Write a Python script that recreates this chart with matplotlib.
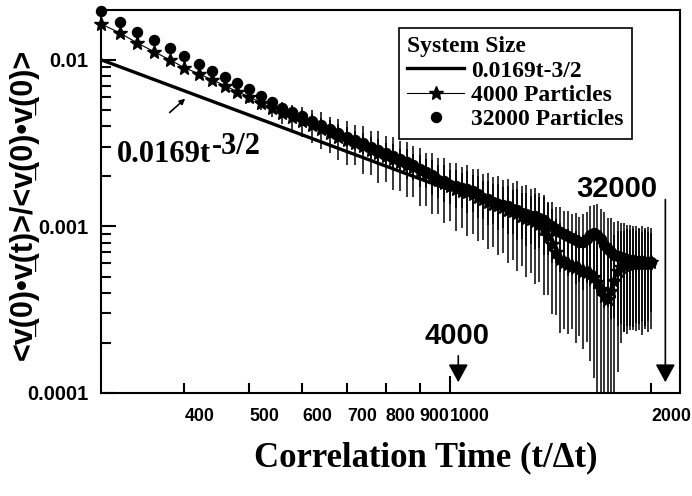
import numpy as np
import matplotlib
matplotlib.use('Agg')
import matplotlib.pyplot as plt
from matplotlib.ticker import FixedLocator, NullLocator, NullFormatter, LogLocator, FixedFormatter
from matplotlib.font_manager import FontProperties

# correlation time grid (t/dt)
t = np.arange(300, 2001, 20)

# 32000 particles (dots)
y_32000 = [0.0197, 0.0169, 0.0147, 0.0132, 0.0118, 0.0106, 0.00946, 0.00859, 0.00791, 0.00728,
           0.00670, 0.00609, 0.00560, 0.00516, 0.00488, 0.00462, 0.00431, 0.00408, 0.00386, 0.00365,
           0.00346, 0.00332, 0.00318, 0.00301, 0.00289, 0.00277, 0.00266, 0.00252, 0.00242, 0.00232,
           0.00220, 0.00211, 0.00202, 0.00191, 0.00186, 0.00178, 0.00174, 0.00169, 0.00167, 0.00162,
           0.00156, 0.00149, 0.00145, 0.00141, 0.00137, 0.00135, 0.00132, 0.00128, 0.00125, 0.00121,
           0.00118, 0.00116, 0.00115, 0.00112, 0.00109, 0.00104, 0.00100, 0.000959, 0.000920, 0.000895,
           0.000871, 0.000848, 0.000825, 0.000802, 0.000802, 0.000836, 0.000883, 0.000908, 0.000883, 0.000836,
           0.000769, 0.000728, 0.000699, 0.000670, 0.000661, 0.000652, 0.000643, 0.000634, 0.000625, 0.000625,
           0.000617, 0.000617, 0.000617, 0.000609, 0.000609, 0.000609]

# 4000 particles (stars)
y_4000 = [0.0164, 0.0145, 0.0126, 0.0112, 0.0100, 0.00896, 0.00824, 0.00759, 0.00699, 0.00643,
          0.00600, 0.00553, 0.00516, 0.00482, 0.00456, 0.00431, 0.00408, 0.00386, 0.00365, 0.00346,
          0.00332, 0.00318, 0.00305, 0.00289, 0.00277, 0.00266, 0.00255, 0.00245, 0.00235, 0.00226,
          0.00214, 0.00205, 0.00197, 0.00189, 0.00181, 0.00174, 0.00167, 0.00162, 0.00160, 0.00156,
          0.00151, 0.00145, 0.00141, 0.00137, 0.00134, 0.00130, 0.00126, 0.00123, 0.00120, 0.00116,
          0.00113, 0.00110, 0.00107, 0.00103, 0.000970, 0.000880, 0.000780, 0.000700, 0.000640, 0.000609,
          0.000592, 0.000576, 0.000568, 0.000553, 0.000538, 0.000530, 0.000516, 0.000495, 0.000462, 0.000420,
          0.000381, 0.000366, 0.000408, 0.000469, 0.000538, 0.000568, 0.000584, 0.000592, 0.000600, 0.000600,
          0.000600, 0.000600, 0.000600, 0.000600, 0.000600, 0.000609]

# relative error bar half-lengths (fraction of value)
rel_err_32000 = [0.01, 0.01, 0.02, 0.02, 0.02, 0.02, 0.03, 0.03, 0.03, 0.04,
                 0.04, 0.05, 0.06, 0.06, 0.08, 0.08, 0.10, 0.10, 0.12, 0.12,
                 0.14, 0.13, 0.15, 0.14, 0.16, 0.15, 0.18, 0.16, 0.20, 0.18,
                 0.22, 0.20, 0.24, 0.22, 0.25, 0.23, 0.26, 0.24, 0.28, 0.25,
                 0.28, 0.26, 0.30, 0.27, 0.31, 0.28, 0.32, 0.30, 0.34, 0.31,
                 0.35, 0.32, 0.36, 0.34, 0.38, 0.35, 0.40, 0.37, 0.42, 0.38,
                 0.42, 0.40, 0.45, 0.42, 0.48, 0.45, 0.50, 0.48, 0.55, 0.52,
                 0.58, 0.55, 0.60, 0.58, 0.62, 0.60, 0.64, 0.60, 0.62, 0.60,
                 0.62, 0.58, 0.64, 0.60, 0.62, 0.60]
rel_err_4000 = [0.02, 0.02, 0.03, 0.03, 0.03, 0.04, 0.04, 0.05, 0.05, 0.06,
                0.08, 0.10, 0.12, 0.15, 0.18, 0.20, 0.22, 0.25, 0.24, 0.28,
                0.30, 0.27, 0.32, 0.30, 0.34, 0.31, 0.35, 0.33, 0.36, 0.34,
                0.38, 0.35, 0.40, 0.37, 0.42, 0.38, 0.44, 0.40, 0.45, 0.42,
                0.46, 0.43, 0.48, 0.45, 0.50, 0.47, 0.52, 0.49, 0.55, 0.50,
                0.56, 0.52, 0.58, 0.55, 0.60, 0.56, 0.62, 0.58, 0.64, 0.60,
                0.62, 0.58, 0.65, 0.60, 0.66, 0.62, 0.70, 0.75, 0.85, 0.95,
                0.98, 0.98, 0.95, 0.90, 0.75, 0.65, 0.60, 0.62, 0.58, 0.60,
                0.56, 0.60, 0.55, 0.58, 0.55, 0.50]

# power-law guide 0.0169 t^-3/2 (end points)
fit_t = [300, 1000]
fit_y = [0.0100, 0.00165]

xticks = [400, 500, 600, 700, 800, 900, 1000, 2000]
yticks = [0.0001, 0.001, 0.01]
ytick_labels = ['0.0001', '0.001', '0.01']

plt.rcParams['font.family'] = ['Liberation Sans', 'DejaVu Sans']
plt.rcParams['font.weight'] = 'bold'

serif = FontProperties(family='Liberation Serif', weight='bold', size=17)

fig = plt.figure(figsize=(6.92, 4.96), dpi=100)
ax = fig.add_axes([0.146, 0.2077, 0.8367, 0.7722])
ax.set_xscale('log')
ax.set_yscale('log')

y32 = np.array(y_32000)
y4 = np.array(y_4000)
ax.errorbar(t, y4, yerr=np.array(rel_err_4000) * y4, fmt='none', ecolor='k', elinewidth=1.1, capsize=0)
ax.errorbar(t, y32, yerr=np.array(rel_err_32000) * y32, fmt='none', ecolor='k', elinewidth=1.1, capsize=0)

ax.plot(fit_t, fit_y, 'k-', lw=2.4, label='0.0169t-3/2')
ax.plot(t, y4, 'k-', marker='*', ms=10, lw=0.8, label='4000 Particles', clip_on=False)
ax.plot(t, y32, 'ko', ms=7.2, ls='none', label='32000 Particles', clip_on=False)

ax.set_xlim(300, 2208)
ax.set_ylim(1e-4, 0.0199)

ax.xaxis.set_major_locator(FixedLocator(xticks))
ax.xaxis.set_major_formatter(FixedFormatter([str(v) for v in xticks]))
ax.xaxis.set_minor_locator(NullLocator())
ax.yaxis.set_major_locator(FixedLocator(yticks))
ax.yaxis.set_major_formatter(FixedFormatter(ytick_labels))
ax.yaxis.set_minor_locator(LogLocator(base=10, subs=np.arange(2, 10)))
ax.yaxis.set_minor_formatter(NullFormatter())

ax.tick_params(axis='x', which='major', direction='in', length=7, width=1.5, pad=11, labelsize=12.8)
ax.tick_params(axis='y', which='major', direction='in', length=11, width=1.5, pad=9, labelsize=14.5)
ax.tick_params(axis='y', which='minor', direction='in', length=7, width=1.5)
for lbl in ax.get_xticklabels():
    lbl.set_horizontalalignment('left')
ax.xaxis.get_major_ticks()[6].tick1line.set_markersize(12)
for s in ax.spines.values():
    s.set_linewidth(1.5)

ax.set_ylabel('<v\u0332(0)\u2022v\u0332(t)>/<v\u0332(0)\u2022v\u0332(0)>', fontsize=22, fontweight='bold')
ax.yaxis.set_label_coords(-0.107, 0.493)
ax.set_xlabel('Correlation Time (t/\u0394t)', fontsize=25, fontweight='bold', family='Liberation Serif')
ax.xaxis.set_label_coords(0.56, -0.125)

leg = ax.legend(title='System Size', loc='upper right', bbox_to_anchor=(0.917, 0.953), borderaxespad=0,
                fancybox=False, edgecolor='k', prop=serif, title_fontproperties=serif,
                alignment='left', handlelength=2.4, handletextpad=0.3, labelspacing=0.12,
                borderpad=0.35, numpoints=1, framealpha=1)
leg.get_frame().set_linewidth(1.2)

base = ax.text(317, 0.00242, '0.0169t', fontsize=22, ha='left', va='baseline',
               family='Liberation Serif', weight='bold')
ax.annotate('-3/2', xy=(1, 0), xycoords=base, xytext=(0.5, 6), textcoords='offset points',
            ha='left', va='bottom', fontsize=22, family='Liberation Serif', weight='bold')
ax.annotate('', xy=(401, 0.00584), xytext=(380, 0.00482),
            arrowprops=dict(arrowstyle='-|>', color='k', lw=1.2, mutation_scale=8, shrinkA=0, shrinkB=0))

ax.text(1024, 0.000196, '4000', fontsize=21, ha='center', va='baseline', weight='bold')
ax.annotate('', xy=(1028, 0.000116), xytext=(1028, 0.000167), annotation_clip=False,
            arrowprops=dict(arrowstyle='-|>,head_length=0.55,head_width=0.3', mutation_scale=20,
                            color='k', lw=1.2, shrinkA=0, shrinkB=0))
ax.text(1778, 0.00151, '32000', fontsize=21, ha='center', va='baseline', weight='bold')
ax.annotate('', xy=(2099, 0.000116), xytext=(2099, 0.00145), annotation_clip=False,
            arrowprops=dict(arrowstyle='-|>,head_length=0.55,head_width=0.3', mutation_scale=20,
                            color='k', lw=1.2, shrinkA=0, shrinkB=0))

fig.savefig('out.png', dpi=100)
